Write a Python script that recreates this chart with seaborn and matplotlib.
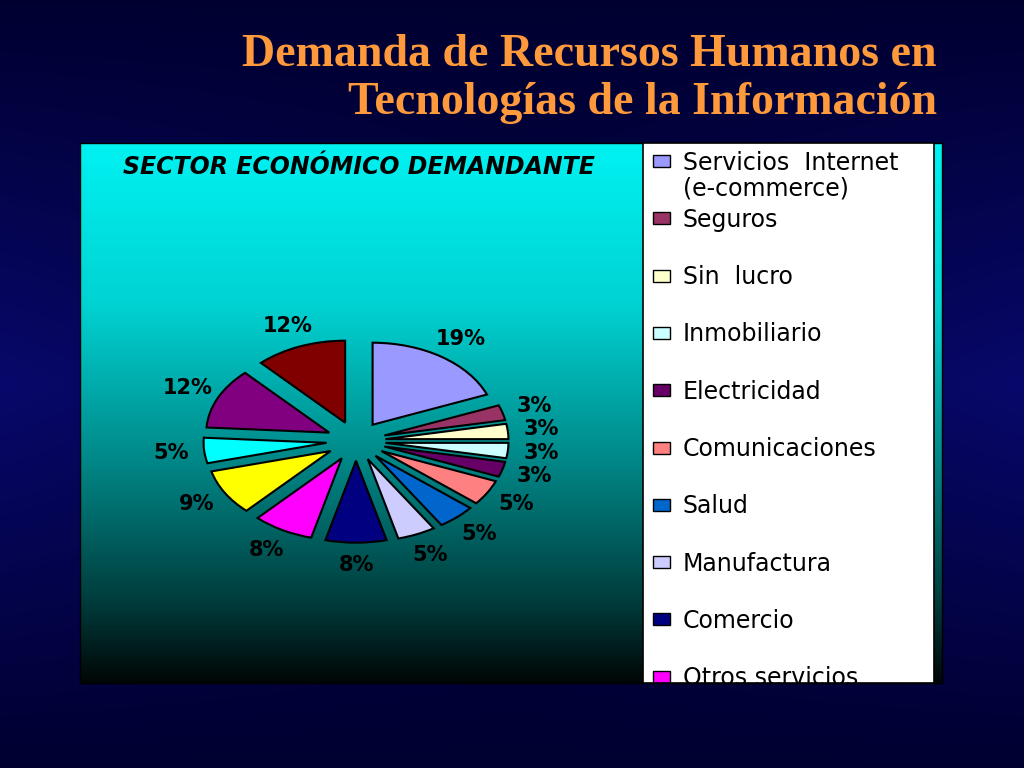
import numpy as np
import matplotlib
matplotlib.use("Agg")
import matplotlib.pyplot as plt
from matplotlib.colors import LinearSegmentedColormap
from matplotlib.patches import Rectangle
import seaborn as sns

# values, clockwise from 12 o'clock
percent = [19, 3, 3, 3, 3, 5, 5, 5, 8, 8, 9, 5, 12, 12]
slice_colors = ["#9999FF", "#993366", "#FFFFCC", "#CCFFFF", "#660066",
                "#FF8080", "#0066CC", "#CCCCFF", "#000080", "#FF00FF",
                "#FFFF00", "#00FFFF", "#800080", "#800000"]
# only the first ten legend entries are visible (legend box is cut off)
sectors = ["Servicios  Internet\n(e-commerce)", "Seguros", "Sin  lucro",
           "Inmobiliario", "Electricidad", "Comunicaciones", "Salud",
           "Manufactura", "Comercio", "Otros servicios"]
title = "Demanda de Recursos Humanos en\nTecnologías de la Información"
chart_title = "SECTOR ECONÓMICO DEMANDANTE"

sns.set_theme(style="white")
plt.rcParams["font.family"] = ["DejaVu Sans"]

W, H = 1024, 768
fig = plt.figure(figsize=(W / 100, H / 100), dpi=100)


def px_axes(x0, y0, x1, y1):
    return fig.add_axes([x0 / W, 1 - y1 / H, (x1 - x0) / W, (y1 - y0) / H])


# slide background: dark navy, a bit lighter towards the middle band / edges
bg = px_axes(0, 0, W, H)
bg.set_axis_off()
yy, xx = np.mgrid[0:1:300j, 0:1:300j]
glow = np.clip(1 - np.abs(yy - 0.5) * 2.0, 0, 1) * (0.4 + 0.6 * np.abs(xx - 0.5) * 2)
dark = np.array([0.0, 0.0, 0.19])
light = np.array([0.03, 0.03, 0.42])
img = dark + glow[..., None] * (light - dark)
bg.imshow(img, extent=[0, 1, 0, 1], aspect="auto")

fig.text(937 / W, 1 - 34 / H, title, ha="right", va="top", multialignment="right",
         fontsize=33, fontweight="bold", color="#FF9A3C",
         family=["Liberation Serif", "DejaVu Serif"], linespacing=1.2)

# chart panel with cyan -> black vertical gradient
panel = px_axes(80, 143, 942, 683)
cmap = LinearSegmentedColormap.from_list(
    "panel", [(0.0, "#00F2F2"), (0.3, "#00D2D2"), (0.6, "#008484"),
              (0.85, "#003C3C"), (1.0, "#000606")])
panel.imshow(np.linspace(0, 1, 256)[:, None], cmap=cmap, aspect="auto",
             extent=[0, 1, 0, 1])
panel.set_xticks([])
panel.set_yticks([])
for s in panel.spines.values():
    s.set_color("black")
    s.set_linewidth(1)
panel.text(0.05, 0.978, chart_title, transform=panel.transAxes, ha="left", va="top",
           fontsize=17, fontweight="bold", fontstyle="italic", color="black")

# exploded, squashed pie
ax = px_axes(171.5, 318, 540.5, 564)
wedges, texts, autotexts = ax.pie(
    percent, colors=sns.color_palette(slice_colors), explode=[0.24] * len(percent),
    startangle=90, counterclock=False, autopct="%1.0f%%", pctdistance=1.27,
    wedgeprops=dict(edgecolor="black", linewidth=1.5),
    textprops=dict(fontsize=15, fontweight="bold", color="black"))
ax.set_aspect("auto")
ax.set_xlim(-1.5, 1.5)
ax.set_ylim(-1.5, 1.5)
ax.set_facecolor("none")
ax.set_axis_off()

# legend box (clipped at the bottom like the original)
leg = px_axes(643, 143, 934, 683)
leg.set_xlim(0, 291)
leg.set_ylim(540, 0)
leg.set_xticks([])
leg.set_yticks([])
leg.set_facecolor("white")
for s in leg.spines.values():
    s.set_color("black")
    s.set_linewidth(1.2)
step = 57.3
line_h = 26
for i, (name, col) in enumerate(zip(sectors, slice_colors)):
    yc = 18 + i * step
    leg.add_patch(Rectangle((10, yc - 6), 17, 12, facecolor=col,
                            edgecolor="black", linewidth=1))
    # baseline of a multi-line text is its last line
    leg.text(40, yc + 8.5 + name.count("\n") * line_h, name, ha="left",
             va="baseline", fontsize=17, color="black", linespacing=1.1,
             clip_on=True)

fig.savefig("out.png", dpi=100)
